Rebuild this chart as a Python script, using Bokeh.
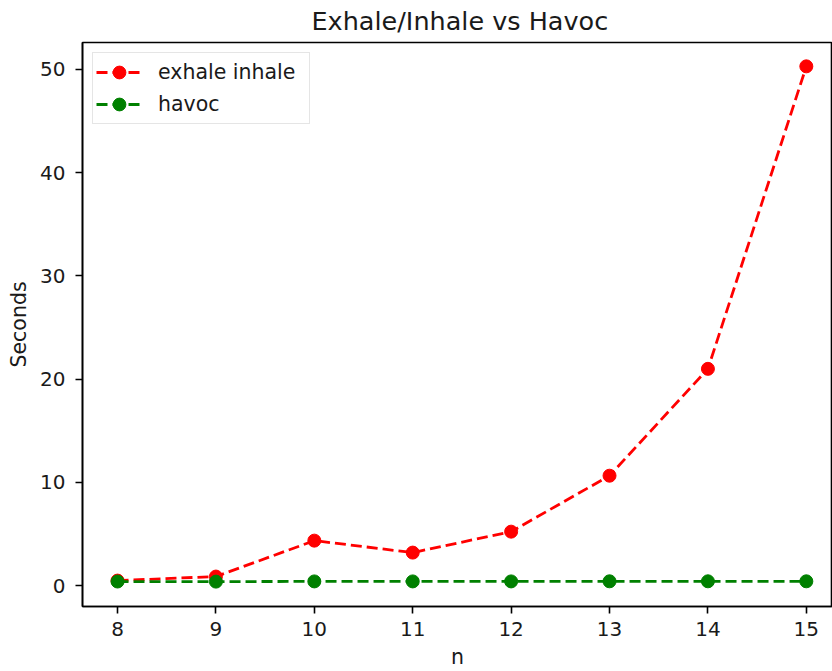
from bokeh.plotting import figure
from bokeh.models import Range1d, FixedTicker, Legend, LegendItem
from bokeh.embed import file_html
from bokeh.resources import INLINE

n_values = [8, 9, 10, 11, 12, 13, 14, 15]
exhale_inhale = [0.48, 0.87, 4.35, 3.19, 5.22, 10.64, 20.99, 50.29]
havoc = [0.39, 0.38, 0.40, 0.40, 0.40, 0.41, 0.41, 0.41]
x_ticks = [8, 9, 10, 11, 12, 13, 14, 15]
y_ticks = [0, 10, 20, 30, 40, 50]

FONT = "DejaVu Sans"
TXT = "#1a1a1a"

p = figure(width=832, height=671, output_backend="svg", toolbar_location=None,
           x_range=Range1d(7.644, 15.266), y_range=Range1d(-2.03, 52.6),
           min_border_left=82, min_border_right=0, min_border_top=42,
           min_border_bottom=64, background_fill_color="white",
           border_fill_color="white")

p.title.text = "Exhale/Inhale vs Havoc"
p.title.align = "left"
p.title.offset = 229
p.title.vertical_align = "top"
p.title.text_font = FONT
p.title.text_font_size = "25.5px"
p.title.text_font_style = "normal"
p.title.text_color = TXT
p.title.standoff = 10

p.grid.visible = False
p.outline_line_color = "black"
p.outline_line_width = 1.6

for ax in (p.xaxis[0], p.yaxis[0]):
    ax.axis_line_color = "black"
    ax.axis_line_width = 1.6
    ax.major_tick_line_color = "black"
    ax.major_tick_line_width = 1.6
    ax.major_tick_out = 7
    ax.major_tick_in = 0
    ax.minor_tick_line_color = None
    ax.major_label_text_font = FONT
    ax.major_label_text_font_size = "20px"
    ax.major_label_text_color = TXT
    ax.axis_label_text_font = FONT
    ax.axis_label_text_font_size = "20.5px"
    ax.axis_label_text_font_style = "normal"
    ax.axis_label_text_color = TXT

p.xaxis.ticker = FixedTicker(ticks=x_ticks)
p.yaxis.ticker = FixedTicker(ticks=y_ticks)
p.xaxis.axis_label = "n"
p.yaxis.axis_label = "Seconds"
p.xaxis.major_label_standoff = 8
p.xaxis.axis_label_standoff = 6
p.yaxis.major_label_standoff = 10
p.yaxis.axis_label_standoff = 6

DASH = "11 5"
l1 = p.line(n_values, exhale_inhale, line_color="#ff0000", line_width=2.8, line_dash=DASH)
s1 = p.scatter(n_values, exhale_inhale, size=13, fill_color="#ff0000", line_color="#ff0000")
l2 = p.line(n_values, havoc, line_color="#008000", line_width=2.8, line_dash=DASH)
s2 = p.scatter(n_values, havoc, size=13, fill_color="#008000", line_color="#008000")

legend = Legend(items=[LegendItem(label="exhale inhale", renderers=[l1, s1]),
                       LegendItem(label="havoc", renderers=[l2, s2])],
                location="top_left", margin=10, padding=3, spacing=0,
                glyph_width=46, glyph_height=32, label_height=32,
                label_standoff=16, label_width=148,
                label_text_font=FONT, label_text_font_size="20.5px",
                label_text_color=TXT,
                border_line_color="#cccccc", border_line_width=1.2,
                background_fill_color="white", background_fill_alpha=0.8)
p.add_layout(legend)

open("out.html", "w").write(file_html(p, INLINE))
